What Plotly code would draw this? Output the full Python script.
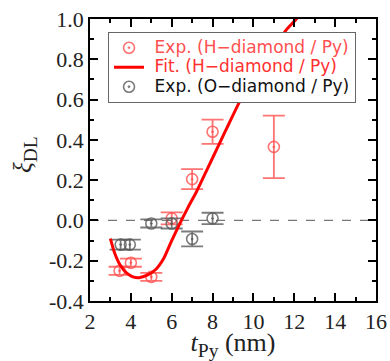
import plotly.graph_objects as go

# --- data ---
h_x = [3.45, 4.0, 5.0, 6.0, 7.0, 8.0, 11.0]
h_y = [-0.25, -0.21, -0.28, 0.01, 0.205, 0.44, 0.365]
h_err = [0.02, 0.02, 0.02, 0.03, 0.05, 0.06, 0.155]

o_x = [3.5, 3.95, 5.0, 6.0, 7.0, 8.0]
o_y = [-0.12, -0.12, -0.015, -0.015, -0.092, 0.01]
o_err = [0.025, 0.025, 0.02, 0.025, 0.037, 0.028]

fit_x = [3.0, 3.2, 3.5, 3.8, 4.1, 4.4, 4.8, 5.2, 5.6, 6.0, 6.4, 6.8, 7.2,
         7.6, 8.0, 8.4, 8.8, 9.3, 9.8, 10.4, 11.0, 11.6, 12.1, 12.4]
fit_y = [-0.09, -0.16, -0.225, -0.262, -0.28, -0.284, -0.272, -0.245, -0.19,
         -0.10, -0.015, 0.065, 0.14, 0.225, 0.31, 0.395, 0.48, 0.585, 0.675,
         0.77, 0.86, 0.945, 1.0, 1.04]

x_tickvals = [2, 4, 6, 8, 10, 12, 14, 16]
x_ticktext = ["2", "4", "6", "8", "10", "12", "14", "16"]
y_tickvals = [-0.4, -0.2, 0.0, 0.2, 0.4, 0.6, 0.8, 1.0]
y_ticktext = ["-0.4", "-0.2", "0.0", "0.2", "0.4", "0.6", "0.8", "1.0"]

RED_PT = "rgba(255,80,80,0.8)"
GRAY_PT = "rgba(90,90,90,0.8)"
RED_LINE = "#ff0000"


def legend_label(text, color):
    return f"<span style='font-size:17px;color:{color}'>\u2004{text}</span>"


fig = go.Figure()

fig.add_trace(go.Scatter(
    x=h_x, y=h_y, mode="markers",
    name=legend_label("Exp. (H−diamond / Py)", "#ff5050"),
    marker=dict(symbol="circle-open-dot", size=11, color=RED_PT,
                line=dict(width=1.6, color=RED_PT)),
    error_y=dict(type="data", array=h_err, color=RED_PT, thickness=1.8, width=11),
    legendrank=1,
))
fig.add_trace(go.Scatter(
    x=o_x, y=o_y, mode="markers",
    name=legend_label("Exp. (O−diamond / Py)", "#111"),
    marker=dict(symbol="circle-open-dot", size=11, color=GRAY_PT,
                line=dict(width=1.6, color=GRAY_PT)),
    error_y=dict(type="data", array=o_err, color=GRAY_PT, thickness=1.8, width=11),
    legendrank=3,
))
fig.add_trace(go.Scatter(
    x=fit_x, y=fit_y, mode="lines", line_shape="spline",
    name=legend_label("Fit. (H−diamond / Py)", "#ff3030"),
    line=dict(color=RED_LINE, width=3, smoothing=0.6),
    legendrank=2,
))

fig.add_hline(y=0, line=dict(color="#777", width=1.2, dash="dash"), layer="below")

axis_common = dict(
    showline=True, linecolor="black", linewidth=1.5, mirror="allticks",
    ticks="inside", ticklen=8, tickwidth=1.5, tickcolor="black",
    showgrid=False, zeroline=False, automargin=False,
    tickfont=dict(family="Liberation Serif", size=22, color="#222"),
)

fig.update_xaxes(
    range=[2, 16], tickvals=x_tickvals, ticktext=x_ticktext,
    minor=dict(ticks="inside", dtick=1, tick0=2, ticklen=4, tickwidth=1.5, tickcolor="black"),
    title=dict(text="<span style='font-size:26px'><i>t</i></span><sub>Py</sub>"
                    "<span style='font-size:26px'> (nm)</span>", standoff=0,
               font=dict(family="Liberation Serif", size=28, color="#222")),
    **axis_common,
)
fig.update_yaxes(
    range=[-0.4, 1.0], tickvals=y_tickvals, ticktext=y_ticktext,
    minor=dict(ticks="inside", dtick=0.1, tick0=0, ticklen=4, tickwidth=1.5, tickcolor="black"),
    **axis_common,
)

fig.add_annotation(
    text="<span style='font-size:25px'><i>ξ</i></span><sub>DL</sub>",
    xref="paper", yref="paper", x=-0.225, y=0.52, xanchor="center", yanchor="middle",
    textangle=-90, showarrow=False,
    font=dict(family="Liberation Serif", size=28, color="#222"),
)

fig.update_layout(
    width=390, height=361,
    margin=dict(l=90, r=14, t=19, b=60),
    plot_bgcolor="white", paper_bgcolor="white",
    showlegend=True,
    legend=dict(
        x=0.063, y=0.954, xanchor="left", yanchor="top",
        bgcolor="white", bordercolor="#666", borderwidth=1,
        font=dict(family="DejaVu Sans", size=12.7),
        tracegroupgap=0,
    ),
)

fig.write_html("out.html", config={"displayModeBar": False},
               post_script="document.body.style.margin='0px';document.body.style.overflow='hidden';")
